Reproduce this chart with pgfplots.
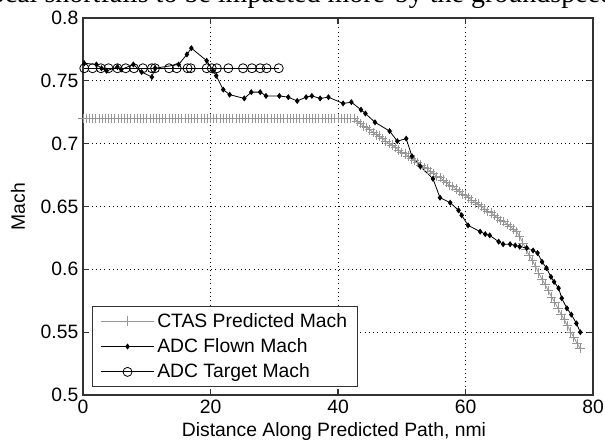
\documentclass[border=0pt]{standalone}
\usepackage{fontspec}
\setmainfont{Liberation Sans}
\newfontfamily\seriffont{Liberation Serif}
\usepackage{pgfplots}
\pgfplotsset{compat=1.18}
\definecolor{ctasgray}{RGB}{150,150,150}
\begin{document}
\begin{tikzpicture}
\begin{scope}
\clip (0,0) rectangle (453.75pt,333.75pt);
\node[anchor=base east,inner sep=0pt,font=\seriffont\fontsize{21}{24}\selectfont] at (289pt,331.6pt) {ocal shortfalls to be impacted more};
\node[anchor=base west,inner sep=0pt,font=\seriffont\fontsize{21}{24}\selectfont] at (296pt,331.6pt) {by the groundspeed};
\end{scope}
\begin{axis}[
  at={(62.25pt,37.5pt)}, anchor=south west,
  scale only axis, width=382.5pt, height=282.75pt,
  xmin=0, xmax=80, ymin=0.5, ymax=0.8,
  xtick={0,20,40,60,80},
  ytick={0.5,0.55,0.6,0.65,0.7,0.75,0.8},
  yticklabels={0.5,0.55,0.6,0.65,0.7,0.75,0.8},
  /pgf/number format/assume math mode=true,
  tick align=inside, tick pos=both,
  major tick length=4.5pt,
  grid=major,
  major grid style={black, line width=0.6pt, dash pattern=on 0.6pt off 2.6pt},
  axis line style={black!80, line width=0.8pt},
  every tick/.style={black!80, line width=0.8pt},
  tick label style={font=\fontsize{14.5}{16}\selectfont},
  label style={font=\fontsize{14.5}{16}\selectfont},
  xlabel={Distance Along Predicted Path, nmi},
  ylabel={Mach},
  xlabel style={at={(axis description cs:0.492,-0.0955)}, anchor=center},
  ylabel style={at={(axis description cs:-0.1275,0.5)}, anchor=center},
  legend style={at={(0.0175,0.021)}, anchor=south west, draw=black!80, line width=0.8pt,
    font=\fontsize{14.5}{16}\selectfont, row sep=3pt, inner xsep=6pt, inner ysep=3pt},
  legend cell align=left,
  legend image code/.code={\draw[#1] (0pt,0pt) -- (40pt,0pt); \draw[#1,mark repeat=2,mark phase=2] plot coordinates {(0pt,0pt) (20pt,0pt) (40pt,0pt)};},
]
% CTAS Predicted Mach
\addplot[ctasgray, line width=0.6pt, mark=+, mark size=3.6pt, mark options={ctasgray, line width=0.6pt}] coordinates {
(0,0.72)(0.5,0.72)(1,0.72)(1.5,0.72)(2,0.72)(2.5,0.72)(3,0.72)(3.5,0.72)(4,0.72)(4.5,0.72)
(5,0.72)(5.5,0.72)(6,0.72)(6.5,0.72)(7,0.72)(7.5,0.72)(8,0.72)(8.5,0.72)(9,0.72)(9.5,0.72)
(10,0.72)(10.5,0.72)(11,0.72)(11.5,0.72)(12,0.72)(12.5,0.72)(13,0.72)(13.5,0.72)(14,0.72)(14.5,0.72)
(15,0.72)(15.5,0.72)(16,0.72)(16.5,0.72)(17,0.72)(17.5,0.72)(18,0.72)(18.5,0.72)(19,0.72)(19.5,0.72)
(20,0.72)(20.5,0.72)(21,0.72)(21.5,0.72)(22,0.72)(22.5,0.72)(23,0.72)(23.5,0.72)(24,0.72)(24.5,0.72)
(25,0.72)(25.5,0.72)(26,0.72)(26.5,0.72)(27,0.72)(27.5,0.72)(28,0.72)(28.5,0.72)(29,0.72)(29.5,0.72)
(30,0.72)(30.5,0.72)(31,0.72)(31.5,0.72)(32,0.72)(32.5,0.72)(33,0.72)(33.5,0.72)(34,0.72)(34.5,0.72)
(35,0.72)(35.5,0.72)(36,0.72)(36.5,0.72)(37,0.72)(37.5,0.72)(38,0.72)(38.5,0.72)(39,0.72)(39.5,0.72)
(40,0.72)(40.5,0.72)(41,0.72)(41.5,0.72)(42,0.72)(42.5,0.72)
(43,0.718)(43.5,0.716)(44,0.714)(44.5,0.713)(45,0.711)(45.5,0.709)(46,0.707)(46.5,0.706)(47,0.704)(47.5,0.702)
(48,0.700)(48.5,0.699)(49,0.697)(49.5,0.695)(50,0.693)(50.5,0.692)(51,0.690)(51.5,0.688)(52,0.687)(52.5,0.685)
(53,0.683)(53.5,0.681)(54,0.680)(54.5,0.678)(55,0.676)(55.5,0.674)(56,0.673)(56.5,0.671)(57,0.669)(57.5,0.667)
(58,0.666)(58.5,0.664)(59,0.662)(59.5,0.660)(60,0.659)(60.5,0.657)(61,0.655)(61.5,0.653)(62,0.652)(62.5,0.650)
(63,0.648)(63.5,0.646)(64,0.645)(64.5,0.643)(65,0.641)(65.5,0.639)(66,0.638)(66.5,0.636)(67,0.634)(67.5,0.632)
(68,0.630)(68.5,0.626)(69,0.621)(69.5,0.616)(70,0.611)(70.5,0.607)(71,0.602)(71.5,0.597)(72,0.592)(72.5,0.588)
(73,0.583)(73.5,0.578)(74,0.574)(74.5,0.569)(75,0.564)(75.5,0.560)(76,0.555)(76.5,0.550)(77,0.546)(77.5,0.541)
(78,0.537)
};
\addlegendentry{CTAS Predicted Mach}
% ADC Flown Mach
\addplot[black, line width=0.6pt, mark=diamond*, mark size=1.8pt, mark options={black}] coordinates {
(0.2,0.764)(2.1,0.763)(2.9,0.760)(3.7,0.758)(5.4,0.761)(6.0,0.759)(7.9,0.763)(9.2,0.757)(10.8,0.753)(11.3,0.760)
(15.0,0.763)(16.3,0.771)(17.0,0.776)(19.4,0.766)(20.4,0.758)(20.9,0.754)(22.0,0.743)(23.0,0.739)(25.3,0.736)
(26.4,0.741)(27.8,0.741)(28.7,0.738)(30.8,0.738)(32.2,0.737)(33.6,0.734)(35.0,0.737)(35.9,0.738)(37.2,0.736)
(38.5,0.737)(40.8,0.732)(42.1,0.733)(43.6,0.727)(44.3,0.724)(45.8,0.717)(48.1,0.710)(49.3,0.702)(50.7,0.704)
(51.6,0.690)(52.9,0.682)(54.9,0.672)(56.0,0.657)(57.6,0.653)(58.9,0.647)(59.4,0.643)(60.4,0.635)(62.3,0.630)
(63.1,0.628)(63.8,0.627)(65.2,0.622)(65.9,0.620)(67.0,0.620)(67.8,0.619)(68.5,0.618)(69.6,0.617)(70.6,0.615)
(71.3,0.613)(72.0,0.606)(72.7,0.601)(73.4,0.594)(73.9,0.590)(74.6,0.585)(75.1,0.577)(75.9,0.569)(76.6,0.564)
(77.4,0.557)(78.0,0.550)
};
\addlegendentry{ADC Flown Mach}
% ADC Target Mach
\addplot[black, line width=0.6pt, mark=o, mark size=3.4pt, mark options={black, line width=0.6pt}] coordinates {
(0.2,0.76)(1.5,0.76)(2.8,0.76)(4.0,0.76)(5.4,0.76)(6.7,0.76)(8.0,0.76)(9.4,0.76)(10.8,0.76)(11.3,0.76)
(13.5,0.76)(14.7,0.76)(16.4,0.76)(16.9,0.76)(19.4,0.76)(20.2,0.76)(21.0,0.76)(22.8,0.76)(25.1,0.76)
(26.5,0.76)(27.8,0.76)(28.8,0.76)(30.7,0.76)
};
\addlegendentry{ADC Target Mach}
\end{axis}
\pgfresetboundingbox
\useasboundingbox (0,0) rectangle (453.75pt,333.75pt);
\end{tikzpicture}
\end{document}
